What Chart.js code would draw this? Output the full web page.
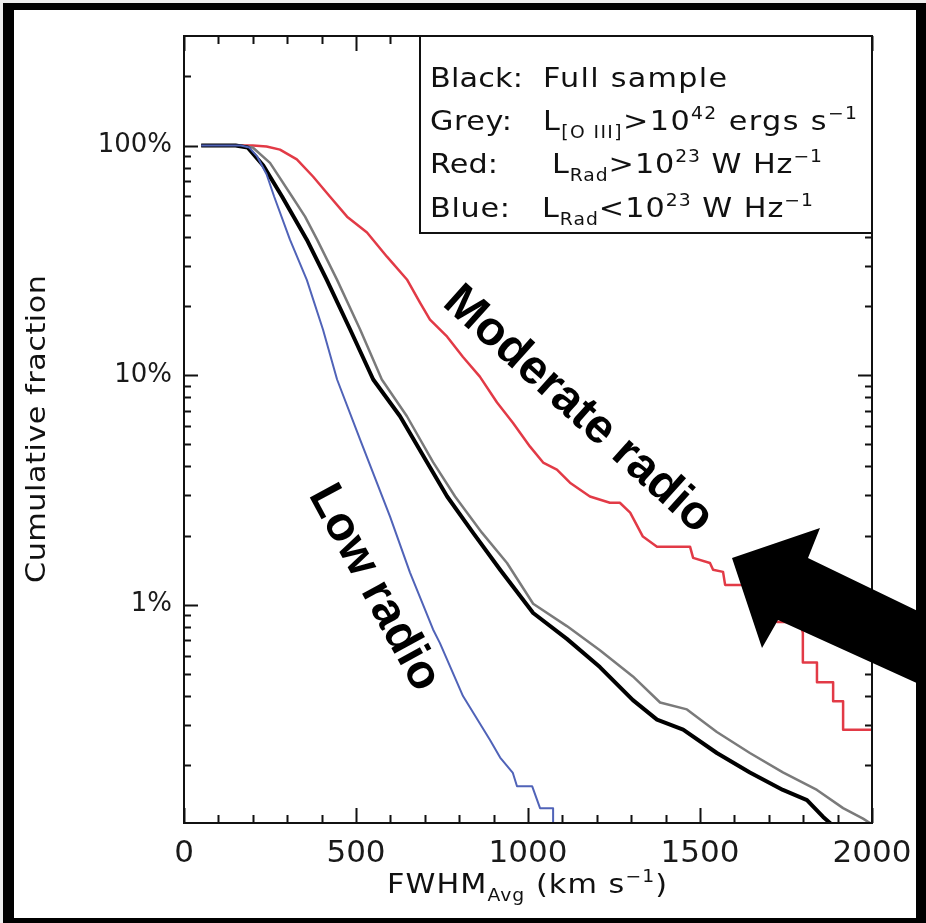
<!DOCTYPE html>
<html>
<head>
<meta charset="utf-8">
<script src="https://cdn.jsdelivr.net/npm/chart.js@4.4.1/dist/chart.umd.min.js"></script>
<style>
  html, body { margin: 0; padding: 0; background: #ededed; }
  #wrap { width: 926px; height: 923px; }
</style>
</head>
<body>
<div id="wrap"><canvas id="cdf" width="926" height="923"></canvas></div>
<script>
// cumulative fraction (fraction of objects above a given FWHM)
const blueFwhm = [50, 165, 190, 212, 240, 262, 308, 357, 404, 445, 512, 599, 657, 724, 744, 811, 890, 919, 956, 968, 1012, 1035, 1073, 1073];
const blueFrac = [1, 1, 0.98, 0.9, 0.75, 0.6, 0.389, 0.26, 0.158, 0.0957, 0.0524, 0.0242, 0.0138, 0.0078, 0.0068, 0.004, 0.00257, 0.00216, 0.00185, 0.00162, 0.00162, 0.0013, 0.0013, 0.0009];

const blackFwhm = [50, 150, 185, 230, 285, 320, 357, 415, 483, 550, 628, 706, 765, 840, 919, 1015, 1113, 1209, 1305, 1375, 1451, 1549, 1645, 1741, 1811, 1858, 1890, 1895];
const blackFrac = [1, 1, 0.98, 0.82, 0.6, 0.486, 0.389, 0.26, 0.158, 0.0957, 0.0662, 0.0418, 0.0296, 0.0206, 0.0142, 0.0092, 0.0071, 0.00535, 0.00384, 0.00316, 0.00286, 0.00226, 0.00186, 0.00156, 0.00141, 0.00119, 0.00108, 0.0009];

const greyFwhm = [50, 160, 200, 250, 314, 352, 387, 445, 512, 575, 648, 724, 788, 866, 939, 1015, 1113, 1209, 1305, 1384, 1462, 1549, 1645, 1741, 1840, 1916, 1974, 1994, 2000];
const greyFrac = [1, 1, 0.98, 0.84, 0.6, 0.49, 0.389, 0.26, 0.158, 0.0957, 0.0662, 0.0418, 0.0296, 0.0206, 0.0152, 0.0101, 0.00807, 0.00633, 0.00487, 0.00375, 0.0035, 0.00279, 0.00226, 0.00186, 0.00156, 0.0013, 0.00117, 0.00112, 0.0011];

const redFwhm = [50, 200, 240, 279, 328, 375, 424, 474, 532, 590, 648, 686, 715, 765, 811, 860, 910, 956, 1006, 1044, 1084, 1122, 1180, 1238, 1267, 1297, 1334, 1375, 1471, 1480, 1529, 1538, 1567, 1573, 1622, 1674, 1724, 1791, 1799, 1799, 1840, 1840, 1887, 1887, 1916, 1916, 2000];
const redFrac = [1, 1, 0.99, 0.96, 0.87, 0.733, 0.6, 0.49, 0.418, 0.328, 0.261, 0.207, 0.1745, 0.147, 0.12, 0.0985, 0.076, 0.062, 0.0488, 0.0416, 0.0388, 0.034, 0.0296, 0.0278, 0.0278, 0.0252, 0.0198, 0.0179, 0.0179, 0.016, 0.0152, 0.0142, 0.0139, 0.0122, 0.0122, 0.0105, 0.0084, 0.0084, 0.00755, 0.0056, 0.0056, 0.0046, 0.0046, 0.0038, 0.0038, 0.00285, 0.00285];

const xTickValues = [0, 500, 1000, 1500, 2000];
const yTickValues = [0.01, 0.1, 1];
const yTickLabels = ['1%', '10%', '100%'];

const legendNames = ['Black:', 'Grey:', 'Red:', 'Blue:'];
const legendTexts = ['Full sample', 'L_{[O III]}>10^{42} ergs s^{\u22121}', 'L_{Rad}>10^{23} W Hz^{\u22121}', 'L_{Rad}<10^{23} W Hz^{\u22121}'];

const FONT = '"DejaVu Sans", sans-serif';
const BOLD = 'bold 48px "Liberation Sans", Arial, sans-serif';

// split "a_{b}c^{d}" into plain / sub / sup pieces
function parseRich(str) {
  const out = [];
  const re = /([_^])\{([^}]*)\}/g;
  let last = 0, m;
  while ((m = re.exec(str))) {
    if (m.index > last) out.push({ t: str.slice(last, m.index), m: 'n' });
    out.push({ t: m[2], m: m[1] === '_' ? 'sub' : 'sup' });
    last = re.lastIndex;
  }
  if (last < str.length) out.push({ t: str.slice(last), m: 'n' });
  return out;
}

// rich text from x, widened (a bit of stretch, then letter spacing) to the given width
function drawRich(ctx, str, x, y, size, width) {
  const segs = parseRich(str);
  ctx.save();
  ctx.letterSpacing = '0px';
  let nat = 0, n = 0;
  segs.forEach(s => {
    s.size = s.m === 'n' ? size : size * 0.62;
    ctx.font = s.size + 'px ' + FONT;
    s.w = ctx.measureText(s.t).width;
    nat += s.w;
    n += s.t.length;
  });
  const sx = width ? Math.min(Math.max(width / nat, 1), 1.12) : 1;
  const ls = width ? (width / sx - nat) / Math.max(1, n - 1) : 0;
  ctx.letterSpacing = ls + 'px';
  ctx.textAlign = 'left';
  ctx.textBaseline = 'alphabetic';
  let cx = x;
  segs.forEach(s => {
    ctx.font = s.size + 'px ' + FONT;
    const dy = s.m === 'sub' ? size * 0.3 : (s.m === 'sup' ? -size * 0.42 : 0);
    ctx.save();
    ctx.translate(cx, y + dy);
    ctx.scale(sx, 1);
    ctx.fillText(s.t, 0, 0);
    ctx.restore();
    cx += (s.w + ls * s.t.length) * sx;
  });
  ctx.restore();
}

const framePlugin = {
  id: 'frame',
  beforeDraw(chart) {
    const ctx = chart.ctx;
    ctx.save();
    ctx.fillStyle = '#ededed';
    ctx.fillRect(0, 0, 926, 923);
    ctx.fillStyle = '#000';
    ctx.fillRect(3, 3, 923, 920);
    ctx.fillStyle = '#fff';
    ctx.fillRect(14, 10, 902, 908);
    ctx.restore();
  },
  afterDatasetsDraw(chart) {
    const ctx = chart.ctx;
    const a = chart.chartArea;
    const xs = chart.scales.x, ys = chart.scales.y;
    ctx.save();
    ctx.strokeStyle = '#111';
    ctx.lineWidth = 2;
    ctx.strokeRect(a.left, a.top, a.right - a.left, a.bottom - a.top);

    // inward ticks on all four sides
    ctx.beginPath();
    for (let v = 0; v <= 2000; v += 100) {
      const px = Math.round(xs.getPixelForValue(v)) + 0.5;
      const len = v % 500 === 0 ? 15 : 8;
      ctx.moveTo(px, a.bottom); ctx.lineTo(px, a.bottom - len);
      ctx.moveTo(px, a.top); ctx.lineTo(px, a.top + len);
    }
    for (let d = -3; d <= 0; d++) {
      for (let k = 1; k <= 9; k++) {
        const v = k * Math.pow(10, d);
        if (v < ys.min || v >= ys.max) continue;
        const py = Math.round(ys.getPixelForValue(v)) + 0.5;
        const len = k === 1 ? 14 : 7;
        ctx.moveTo(a.left, py); ctx.lineTo(a.left + len, py);
        ctx.moveTo(a.right, py); ctx.lineTo(a.right - len, py);
      }
    }
    ctx.stroke();

    // legend box
    ctx.fillStyle = '#fff';
    ctx.fillRect(420, a.top, a.right - 420, 233 - a.top);
    ctx.strokeRect(420, a.top, a.right - 420, 233 - a.top);
    ctx.fillStyle = '#111';
    const base = [87, 130, 173, 217];
    const starts = [543, 543, 552, 542];
    const widths = [184, 314, 270, 271];
    const nameW = [93, 82, 68, 80];
    legendNames.forEach((name, i) => {
      drawRich(ctx, name, 430, base[i], 27, nameW[i]);
      drawRich(ctx, legendTexts[i], starts[i], base[i], 27, widths[i]);
    });

    // axis titles
    drawRich(ctx, 'FWHM_{Avg} (km s^{\u22121})', 387, 893, 27, 280);
    ctx.translate(45, 429);
    ctx.rotate(-Math.PI / 2);
    drawRich(ctx, 'Cumulative fraction', -154, 0, 27, 308);
    ctx.restore();

    // annotations
    ctx.save();
    ctx.fillStyle = '#000';
    ctx.font = BOLD;
    ctx.textAlign = 'center';
    ctx.textBaseline = 'middle';
    ctx.save();
    ctx.translate(578, 410);
    ctx.rotate(42 * Math.PI / 180);
    ctx.fillText('Moderate radio', 0, 0);
    ctx.restore();
    ctx.save();
    ctx.translate(374, 588);
    ctx.rotate(61.5 * Math.PI / 180);
    ctx.fillText('Low radio', 0, 0);
    ctx.restore();

    // big arrow
    ctx.beginPath();
    ctx.moveTo(732, 558);
    ctx.lineTo(820, 528);
    ctx.lineTo(808, 558);
    ctx.lineTo(930, 617);
    ctx.lineTo(930, 689);
    ctx.lineTo(778, 620);
    ctx.lineTo(762, 648);
    ctx.closePath();
    ctx.fill();
    ctx.restore();
  }
};

function series(xs, ys, color, width) {
  return {
    data: xs.map((x, i) => ({ x: x, y: ys[i] })),
    borderColor: color,
    borderWidth: width,
    borderJoinStyle: 'round',
    pointRadius: 0,
    tension: 0,
    fill: false,
    clip: 0
  };
}

new Chart(document.getElementById('cdf'), {
  type: 'line',
  data: {
    datasets: [
      series(blueFwhm, blueFrac, '#5063b8', 2),
      series(blackFwhm, blackFrac, '#000000', 4),
      series(greyFwhm, greyFrac, '#7a7a7a', 2.5),
      series(redFwhm, redFrac, '#e23a46', 2.5)
    ]
  },
  options: {
    responsive: false,
    animation: false,
    events: [],
    layout: { padding: { left: 0, top: 36, right: 54, bottom: 0 } },
    plugins: { legend: { display: false }, tooltip: { enabled: false } },
    scales: {
      x: {
        type: 'linear',
        min: 0,
        max: 2000,
        afterBuildTicks: s => { s.ticks = xTickValues.map(v => ({ value: v })); },
        afterFit: s => { s.height = 100; },
        grid: { display: false, drawTicks: false },
        border: { display: false },
        ticks: {
          font: { family: 'DejaVu Sans', size: 31 },
          color: '#1a1a1a',
          padding: 12,
          maxRotation: 0,
          autoSkip: false,
          callback: v => String(v)
        }
      },
      y: {
        type: 'logarithmic',
        min: 0.00112,
        max: 3.0,
        afterBuildTicks: s => { s.ticks = yTickValues.map(v => ({ value: v })); },
        afterFit: s => { s.width = 184; },
        grid: { display: false, drawTicks: false },
        border: { display: false },
        ticks: {
          font: { family: 'DejaVu Sans', size: 26 },
          color: '#1a1a1a',
          padding: 12,
          autoSkip: false,
          callback: v => {
            const i = yTickValues.findIndex(t => Math.abs(t - v) < t * 1e-6);
            return i >= 0 ? yTickLabels[i] : '';
          }
        }
      }
    }
  },
  plugins: [framePlugin]
});
</script>
</body>
</html>
